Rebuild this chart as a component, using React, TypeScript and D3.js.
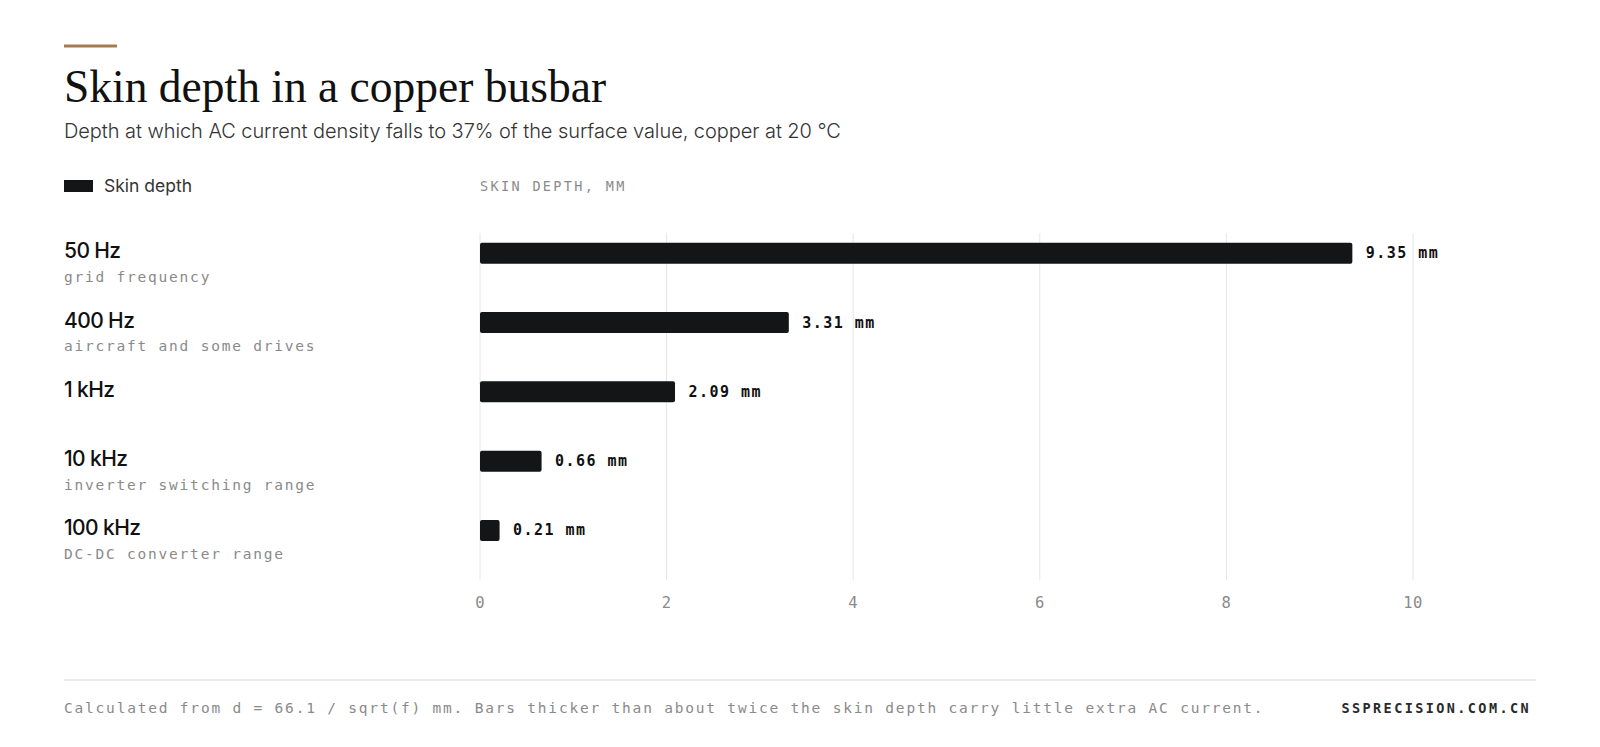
import React, { useEffect } from 'react';
import * as d3 from 'd3';

const categories = ['50 Hz', '400 Hz', '1 kHz', '10 kHz', '100 kHz'];
const notes = ['grid frequency', 'aircraft and some drives', '', 'inverter switching range', 'DC-DC converter range'];
const depths = [9.35, 3.31, 2.09, 0.66, 0.21];
const ticks = [0, 2, 4, 6, 8, 10];

const W = 1600;
const H = 747;
const MONO = '"DejaVu Sans Mono", monospace';
const SANS = 'Inter, "Noto Sans", sans-serif';

export default function App() {
  useEffect(() => {
    document.body.style.margin = '0';
  }, []);

  const x = d3.scaleLinear().domain([0, 10]).range([480, 1413]);
  const y = d3.scaleBand<string>().domain(categories).range([218.6, 565.1]);
  const barH = 21;

  return (
    <svg width={W} height={H} style={{ display: 'block', background: '#fff' }}>
      {/* header */}
      <rect x={64} y={44.5} width={53} height={3} fill="#a47c52" />
      <text x={64} y={102} fontFamily='"Liberation Serif", serif' fontSize={45.5} fill="#111">
        Skin depth in a copper busbar
      </text>
      <text x={64} y={138} fontFamily={SANS} fontWeight={300} fontSize={20} letterSpacing={-0.06} fill="#333">
        Depth at which AC current density falls to 37% of the surface value, copper at 20 °C
      </text>

      {/* legend */}
      <rect x={64} y={180} width={29} height={12} fill="#131516" />
      <text x={104} y={192} fontFamily={SANS} fontSize={17.5} letterSpacing={0} fill="#333">
        Skin depth
      </text>
      <text x={480} y={191} fontFamily={MONO} fontSize={13.5} letterSpacing={2.35} fill="#8a8a8a">
        SKIN DEPTH, MM
      </text>

      {/* grid */}
      {ticks.map((t) => (
        <g key={t}>
          <line x1={x(t)} x2={x(t)} y1={233} y2={580} stroke="#e6e6e6" strokeWidth={1} />
          <text x={x(t)} y={607.5} textAnchor="middle" fontFamily={MONO} fontSize={15.5} letterSpacing={0.4} fill="#8a8a8a">
            {t}
          </text>
        </g>
      ))}

      {/* rows */}
      {categories.map((c, i) => {
        const cy = (y(c) as number) + y.bandwidth() / 2;
        return (
          <g key={c}>
            <text x={64} y={cy + 5} fontFamily={SANS} fontWeight={500} fontSize={21} letterSpacing={-0.6} fill="#111">
              {c}
            </text>
            {notes[i] && (
              <text x={64} y={cy + 28.5} fontFamily={MONO} fontSize={14.5} letterSpacing={1.78} fill="#8a8a8a">
                {notes[i]}
              </text>
            )}
            <rect x={x(0)} y={cy - barH / 2} width={x(depths[i]) - x(0)} height={barH} rx={2} fill="#131516" />
            <text x={x(depths[i]) + 13.5} y={cy + 5} fontFamily={MONO} fontWeight="bold" fontSize={15} letterSpacing={1.45} fill="#111">
              {depths[i].toFixed(2)} mm
            </text>
          </g>
        );
      })}

      {/* footer */}
      <line x1={64} x2={1536} y1={680} y2={680} stroke="#e6e6e6" strokeWidth={1.5} />
      <text x={64} y={713} fontFamily={MONO} fontSize={14.5} letterSpacing={1.8} fill="#8a8a8a">
        Calculated from d = 66.1 / sqrt(f) mm. Bars thicker than about twice the skin depth carry little extra AC current.
      </text>
      <text x={1531} y={713} textAnchor="end" fontFamily={MONO} fontWeight="bold" fontSize={13.5} letterSpacing={2.4} fill="#2a2a2a">
        SSPRECISION.COM.CN
      </text>
    </svg>
  );
}
